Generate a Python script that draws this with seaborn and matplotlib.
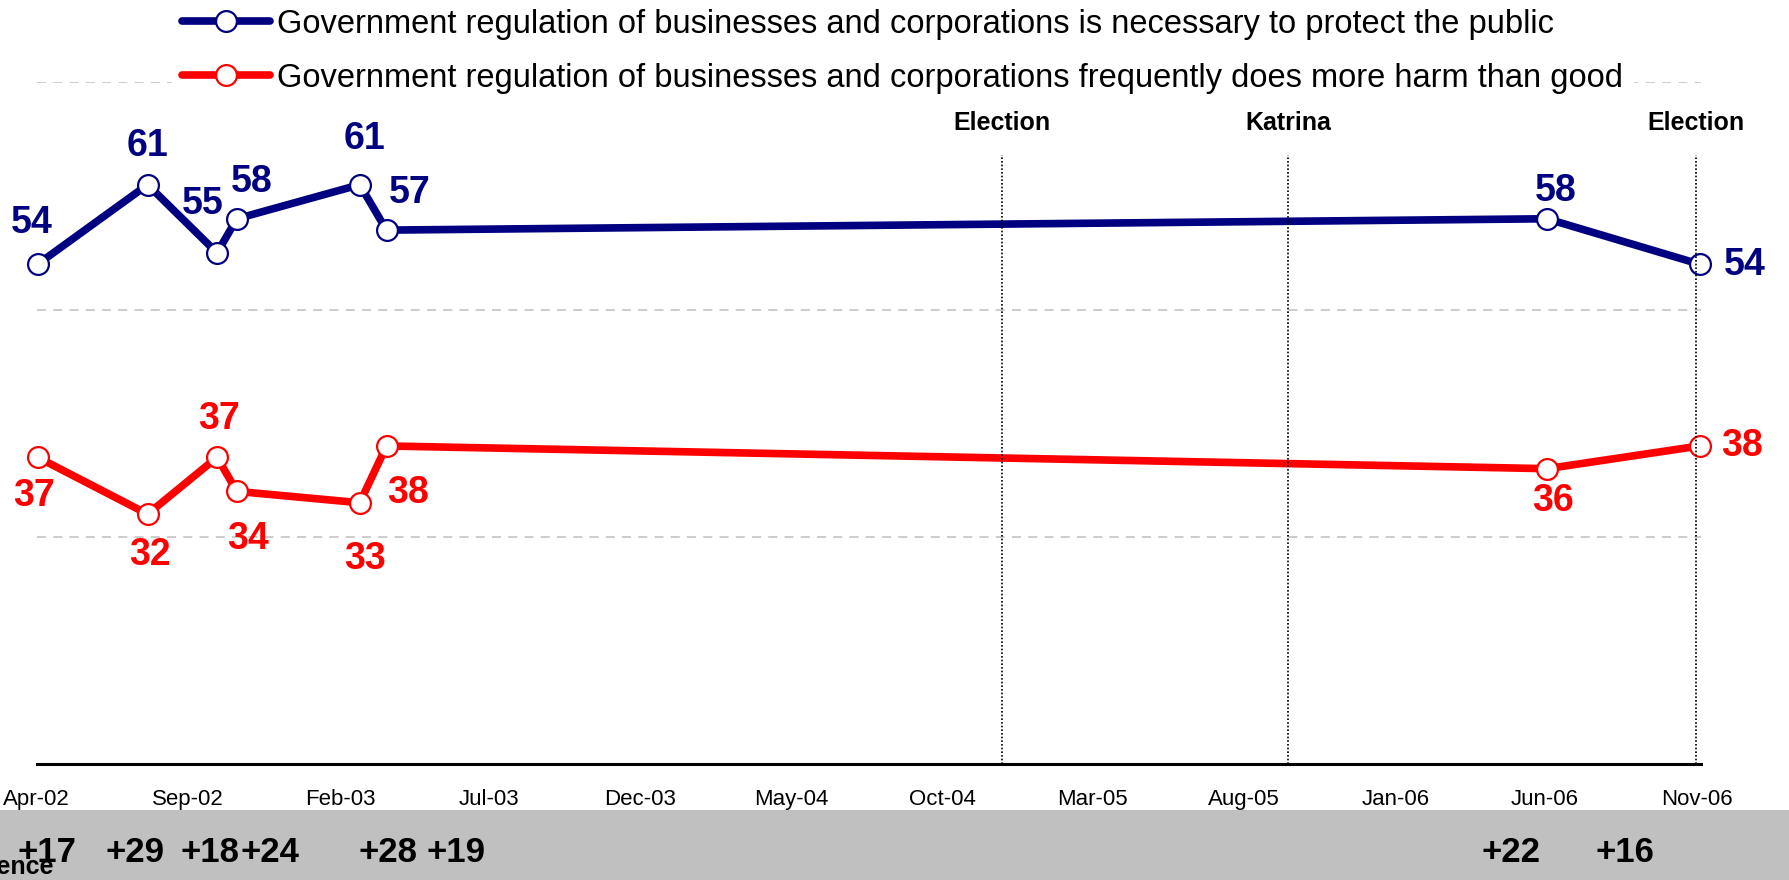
import matplotlib
matplotlib.use('Agg')
import matplotlib.pyplot as plt
import matplotlib.dates as mdates
import matplotlib.transforms as mtransforms
from matplotlib.patches import Rectangle
import pandas as pd
import seaborn as sns

#Survey dates and results
survey_dates = ['2002-04-02', '2002-07-22', '2002-09-30', '2002-10-20',
                '2003-02-21', '2003-03-20', '2006-06-03', '2006-11-04']
protect_public = [54, 61, 55, 58, 61, 57, 58, 54]
more_harm = [37, 32, 37, 34, 33, 38, 36, 38]

series_names = ['Government regulation of businesses and corporations is necessary to protect the public',
                'Government regulation of businesses and corporations frequently does more harm than good']

#Events marked with dotted lines
event_dates = ['2004-11-30', '2005-09-15', '2006-10-31']
event_names = ['Election', 'Katrina', 'Election']

#Where the difference labels sit in the grey band
diff_label_dates = ['2002-04-11', '2002-07-09', '2002-09-23', '2002-11-22',
                    '2003-03-22', '2003-05-29', '2006-04-28', '2006-08-21']

#Label offsets in pixels (dx, dy) from each point
protect_offsets = [(-6, 41), (0, 39), (-14, 49), (15, 37), (5, 46), (23, 37), (9, 28), (45, -1)]
harm_offsets = [(-4, -39), (2, -41), (2, 38), (11, -48), (5, -56), (21, -47), (6, -32), (42, 0)]

navy = '#000080'
red = '#FF0000'

sns.set_style('white')
plt.rcParams['font.family'] = ['Liberation Sans', 'DejaVu Sans']
plt.rcParams['text.color'] = 'black'
plt.rcParams['xtick.color'] = 'black'
plt.rcParams['xtick.labelcolor'] = 'black'

df = pd.DataFrame({'date': pd.to_datetime(survey_dates),
                   'protect': protect_public,
                   'harm': more_harm})

fig = plt.figure(figsize=(17.89, 8.8), dpi=100)
ax = fig.add_axes([0.0205, 0.1318, 0.9301, 0.7745])

line_kws = dict(marker='o', markersize=15, markerfacecolor='white',
                markeredgewidth=1.6, linewidth=5.5, zorder=3, clip_on=False)
sns.lineplot(data=df, x='date', y='protect', color=navy, markeredgecolor=navy,
             label=series_names[0], ax=ax, **line_kws)
sns.lineplot(data=df, x='date', y='harm', color=red, markeredgecolor=red,
             label=series_names[1], ax=ax, **line_kws)

#Value labels
for d, v, (dx, dy) in zip(df['date'], protect_public, protect_offsets):
    ax.annotate(str(v), (d, v), xytext=(dx, dy), textcoords='offset pixels',
                ha='center', va='center', fontsize=27, fontweight='bold',
                color=navy, zorder=6)
for d, v, (dx, dy) in zip(df['date'], more_harm, harm_offsets):
    ax.annotate(str(v), (d, v), xytext=(dx, dy), textcoords='offset pixels',
                ha='center', va='center', fontsize=27, fontweight='bold',
                color=red, zorder=6)

#Event lines
for d, name in zip(pd.to_datetime(event_dates), event_names):
    ax.vlines(d, 10, 63.6, colors='black', linestyles=(0, (1, 1.2)),
              linewidth=1.2, zorder=4)
    ax.text(d, 66.4, name, ha='center', va='center', fontsize=18,
            fontweight='bold', color='black')

#Axes styling
ax.set_xlim(pd.Timestamp('2002-04-01'), pd.Timestamp('2006-11-05'))
ax.set_ylim(10, 70)
ax.set_yticks([10, 30, 50, 70])
ax.grid(visible=True, which='major', axis='y', color='#C8C8C8',
        linestyle=(0, (5, 4)), linewidth=1.3)
ax.grid(visible=False, axis='x')
ax.set_xticks(pd.date_range('2002-04-01', '2006-11-01', freq='5MS'))
ax.xaxis.set_major_formatter(mdates.DateFormatter('%b-%y'))
ax.tick_params(axis='x', direction='out', length=7, width=1.6,
               labelsize=16, pad=11, color='black', labelcolor='black')
ax.tick_params(axis='y', left=False, labelleft=False)
for side in ['left', 'top', 'right']:
    ax.spines[side].set_visible(False)
ax.spines['bottom'].set_linewidth(2.2)
ax.spines['bottom'].set_color('black')
ax.set_xlabel(None)
ax.set_ylabel(None)

leg = ax.legend(loc='upper left', bbox_to_anchor=(172 / 1789, 1 + 1 / 880),
                bbox_transform=fig.transFigure, fontsize=23.5, frameon=True,
                facecolor='white', edgecolor='white', framealpha=1,
                fancybox=False, handlelength=2.7, handletextpad=0.22,
                labelspacing=0.7, borderpad=0.3, borderaxespad=0,
                labelcolor='black')
leg.set_zorder(5)

#Grey band with the differences
fig.add_artist(Rectangle((0, 0), 1, (880 - 810) / 880, transform=fig.transFigure,
                         facecolor='#C0C0C0', edgecolor='none', zorder=0))
band = mtransforms.blended_transform_factory(ax.transData, fig.transFigure)
for d, p, h in zip(pd.to_datetime(diff_label_dates), protect_public, more_harm):
    ax.text(d, 1 - 852 / 880, f'+{p - h}', transform=band, ha='center',
            va='center', fontsize=25, fontweight='bold', color='black',
            clip_on=False)
fig.text(54 / 1789, 1 - 867 / 880, 'Difference', ha='right', va='center',
         fontsize=18, fontweight='bold', color='black')

fig.savefig('out.png', dpi=100)
